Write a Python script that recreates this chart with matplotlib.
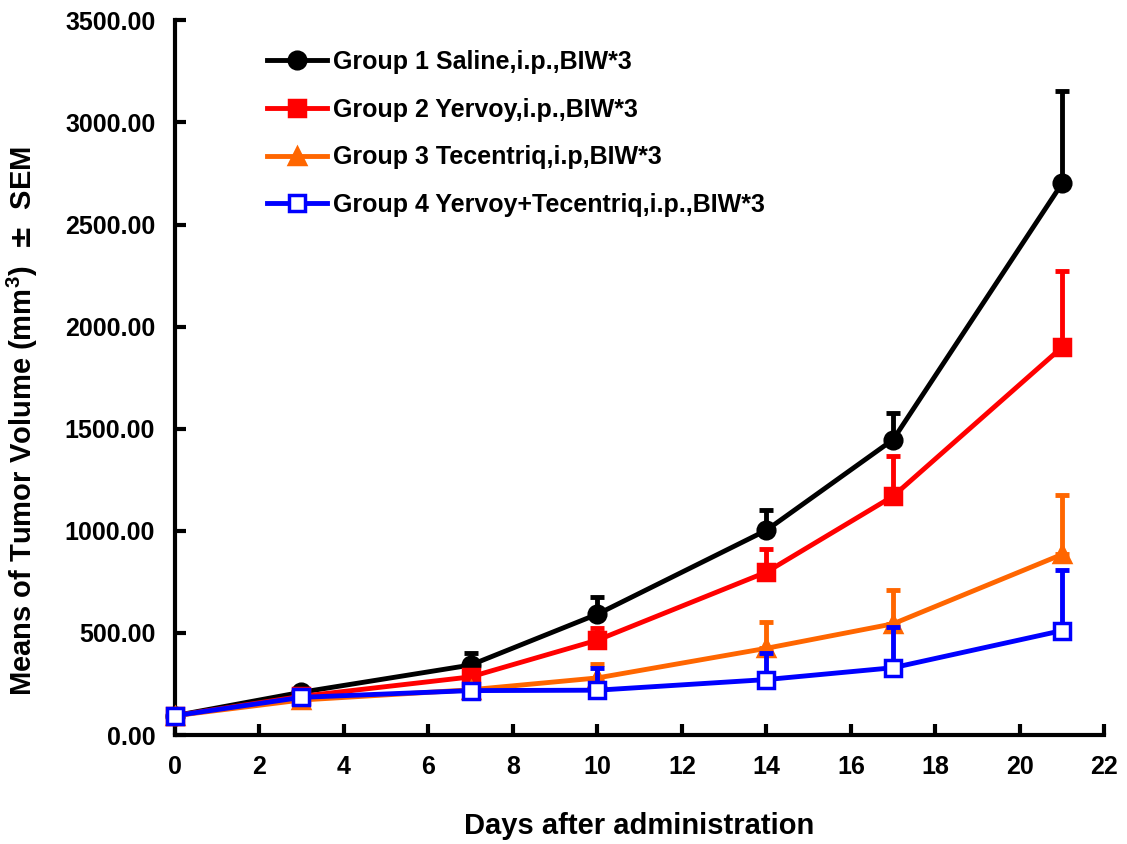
import matplotlib.pyplot as plt
import numpy as np

plt.rcParams['font.family'] = ['Liberation Sans', 'DejaVu Sans']
plt.rcParams['font.weight'] = 'bold'

days = [0, 3, 7, 10, 14, 17, 21]

labels = ["Group 1 Saline,i.p.,BIW*3",
          "Group 2 Yervoy,i.p.,BIW*3",
          "Group 3 Tecentriq,i.p,BIW*3",
          "Group 4 Yervoy+Tecentriq,i.p.,BIW*3"]

g1_mean = [95, 210, 343, 592, 1003, 1447, 2702]
g1_sem = [0, 0, 60, 85, 100, 130, 450]
g2_mean = [95, 190, 285, 465, 798, 1170, 1900]
g2_sem = [0, 0, 20, 60, 115, 195, 370]
g3_mean = [95, 172, 222, 280, 425, 545, 885]
g3_sem = [0, 0, 10, 70, 130, 165, 290]
g4_mean = [95, 185, 218, 220, 272, 330, 512]
g4_sem = [0, 0, 10, 110, 130, 200, 295]

means = [g1_mean, g2_mean, g3_mean, g4_mean]
sems = [g1_sem, g2_sem, g3_sem, g4_sem]
colors = ['black', '#ff0000', '#ff6600', '#0000ff']
markers = ['o', 's', '^', 's']
faces = ['black', '#ff0000', '#ff6600', 'white']

fig = plt.figure(figsize=(11.27, 8.44), dpi=100)
ax = fig.add_axes([0.155, 0.129, 0.825, 0.847])

for i in range(4):
    m = np.array(means[i])
    s = np.array(sems[i])
    # upward-only error bars
    ax.errorbar(days, m, yerr=[np.zeros_like(s), s], fmt='none', ecolor=colors[i],
                elinewidth=3.5, capsize=5, capthick=3.5, zorder=2 + i, clip_on=False)
    ax.plot(days, m, color=colors[i], marker=markers[i], markerfacecolor=faces[i],
            markeredgecolor=colors[i], markersize=12 if markers[i] != 's' else 11,
            markeredgewidth=2.5, linewidth=3.5, label=labels[i], zorder=3 + i,
            clip_on=False)

ax.set_xlim(0, 22)
ax.set_ylim(0, 3500)
ax.set_xticks(range(0, 23, 2))
ax.set_yticks(range(0, 3501, 500))
ax.set_yticklabels([f"{v:.2f}" for v in range(0, 3501, 500)])

for side in ['top', 'right']:
    ax.spines[side].set_visible(False)
for side in ['left', 'bottom']:
    ax.spines[side].set_linewidth(3)

ax.tick_params(direction='in', length=8, width=3, labelsize=18)
ax.tick_params(axis='y', pad=14)
ax.tick_params(axis='x', pad=14)
for lab in ax.get_xticklabels() + ax.get_yticklabels():
    lab.set_fontweight('bold')

ax.set_xlabel("Days after administration", fontsize=21, fontweight='bold', labelpad=24)
ax.set_ylabel("Means of Tumor Volume (mm$^\\mathregular{3}$)  $\\pm$  SEM", fontsize=21,
              fontweight='bold')
ax.yaxis.set_label_coords(-0.145, 0.44)

leg = ax.legend(loc='upper left', bbox_to_anchor=(0.075, 0.99),
                frameon=False, fontsize=18, handlelength=2.4, labelspacing=0.95,
                handletextpad=0.25)
for t in leg.get_texts():
    t.set_fontweight('bold')

fig.savefig('out.png', dpi=100)
